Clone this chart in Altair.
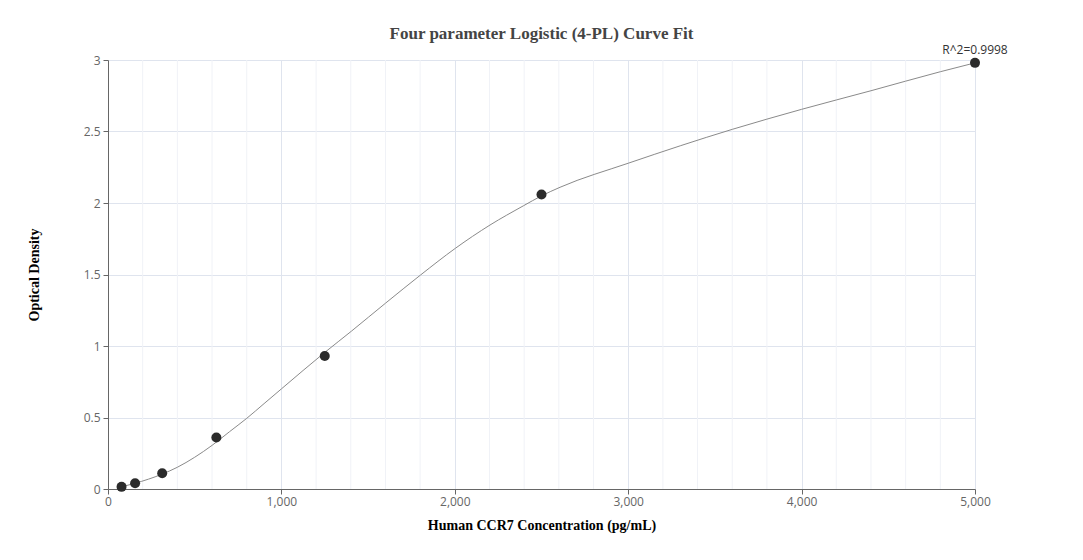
import altair as alt
import pandas as pd

# measured standards
conc = [78.125, 156.25, 312.5, 625, 1250, 2500, 5000]
od = [0.015, 0.04, 0.11, 0.36, 0.93, 2.06, 2.98]

# fitted 4-PL curve
curve_x = [78, 156, 310, 400, 500, 600, 700, 800, 900, 1000, 1250, 1405, 1601, 1803,
           2003, 2203, 2395, 2500, 2607, 3000, 3600, 4000, 4400, 4800, 5000]
curve_y = [0.015, 0.04, 0.103, 0.152, 0.222, 0.305, 0.40, 0.494, 0.597, 0.70, 0.955, 1.105,
           1.30, 1.497, 1.683, 1.846, 1.98, 2.05, 2.11, 2.278, 2.515, 2.655, 2.785, 2.918, 2.98]

x_major = [0, 1000, 2000, 3000, 4000, 5000]
x_minor = [200, 400, 600, 800, 1200, 1400, 1600, 1800, 2200, 2400, 2600, 2800,
           3200, 3400, 3600, 3800, 4200, 4400, 4600, 4800]
y_major = [0, 0.5, 1, 1.5, 2, 2.5, 3]

r2_label = "R^2=0.9998"

points = pd.DataFrame({"x": conc, "y": od})
curve = pd.DataFrame({"x": curve_x, "y": curve_y})
minor = pd.DataFrame({"x": x_minor})
label = pd.DataFrame({"x": [conc[-1]], "y": [od[-1]], "t": [r2_label]})

xs = alt.Scale(domain=[0, 5000], nice=False)
ys = alt.Scale(domain=[0, 3], nice=False)

x_axis = alt.Axis(values=x_major, labelExpr="format(datum.value, ',')",
                  title="Human CCR7 Concentration (pg/mL)", labelFlush=False,
                  gridColor="#dfe4ee", domainColor="#666666", tickColor="#666666",
                  tickSize=5, labelPadding=2, titlePadding=11)
y_axis = alt.Axis(values=y_major, labelExpr="format(datum.value, '~g')",
                  title="Optical Density", labelFlush=False,
                  gridColor="#dfe4ee", domainColor="#666666", tickColor="#666666",
                  tickSize=5, labelPadding=3, titlePadding=42)

minor_grid = alt.Chart(minor).mark_rule(color="#f0f2f7", strokeWidth=1).encode(
    x=alt.X("x:Q", scale=xs, axis=x_axis)
)

line = alt.Chart(curve).mark_line(color="#8a8a8a", strokeWidth=1, interpolate="monotone").encode(
    x=alt.X("x:Q", scale=xs, axis=x_axis),
    y=alt.Y("y:Q", scale=ys, axis=y_axis)
)

dots = alt.Chart(points).mark_circle(size=100, color="#2b2b2b", opacity=1).encode(
    x=alt.X("x:Q", scale=xs),
    y=alt.Y("y:Q", scale=ys)
)

r2 = alt.Chart(label).mark_text(dy=-13, fontSize=12, font="Open Sans", color="#333333").encode(
    x=alt.X("x:Q", scale=xs),
    y=alt.Y("y:Q", scale=ys),
    text="t:N"
)

chart = alt.layer(minor_grid, line, dots, r2).properties(
    width=867,
    height=429,
    title=alt.TitleParams("Four parameter Logistic (4-PL) Curve Fit", font="Liberation Serif",
                          fontSize=17, fontWeight="bold", color="#444444", offset=1),
    autosize=alt.AutoSizeParams(type="none"),
    padding={"left": 100, "top": 52, "right": 100, "bottom": 56}
).configure_view(
    stroke=None
).configure_axis(
    labelFont="Open Sans", labelFontSize=12, labelColor="#666666",
    titleFont="Liberation Serif", titleFontSize=14, titleFontWeight="bold", titleColor="#000000"
)

chart.save("out.html", embed_options={"renderer": "svg", "actions": False})
